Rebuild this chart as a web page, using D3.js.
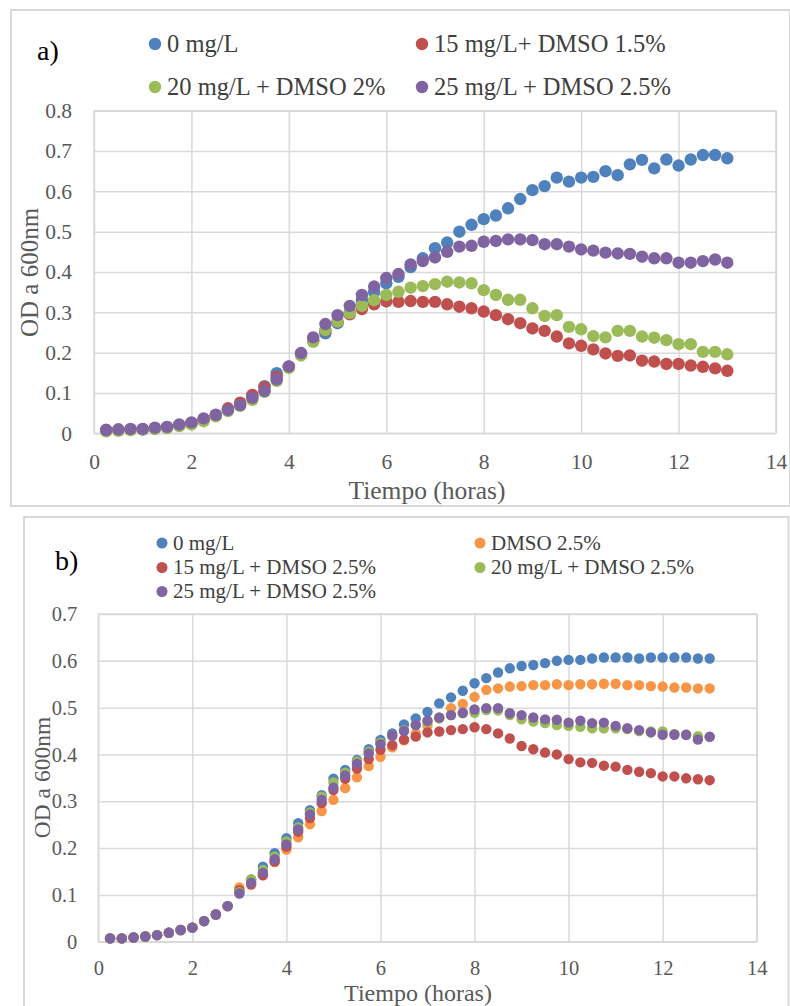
<!DOCTYPE html>
<html>
<head>
<meta charset="utf-8">
<script src="https://cdn.jsdelivr.net/npm/d3@7"></script>
<style>
  html, body { margin: 0; padding: 0; background: #ffffff; }
  svg { display: block; font-family: "Liberation Serif", "Times New Roman", serif; }
</style>
</head>
<body>
<svg id="chart" width="790" height="1006"></svg>
<script>
// Sampling times (hours)
const times = [0.25, 0.5, 0.75, 1, 1.25, 1.5, 1.75, 2, 2.25, 2.5, 2.75, 3, 3.25, 3.5, 3.75, 4,
  4.25, 4.5, 4.75, 5, 5.25, 5.5, 5.75, 6, 6.25, 6.5, 6.75, 7, 7.25, 7.5, 7.75, 8,
  8.25, 8.5, 8.75, 9, 9.25, 9.5, 9.75, 10, 10.25, 10.5, 10.75, 11, 11.25, 11.5, 11.75, 12,
  12.25, 12.5, 12.75, 13];

// Panel a) OD600 readings
const a_0mg = [0.008, 0.008, 0.009, 0.010, 0.012, 0.015, 0.020, 0.025, 0.033, 0.044, 0.058, 0.072,
  0.090, 0.117, 0.149, 0.165, 0.197, 0.232, 0.248, 0.273, 0.300, 0.330, 0.350, 0.372,
  0.388, 0.412, 0.434, 0.459, 0.473, 0.500, 0.517, 0.531, 0.540, 0.558, 0.581, 0.603,
  0.613, 0.634, 0.624, 0.634, 0.636, 0.650, 0.640, 0.667, 0.678, 0.657, 0.679, 0.664,
  0.679, 0.690, 0.690, 0.682];
const a_15mg = [0.008, 0.008, 0.009, 0.010, 0.012, 0.014, 0.019, 0.024, 0.034, 0.045, 0.062, 0.076,
  0.095, 0.114, 0.140, 0.165, 0.195, 0.230, 0.255, 0.277, 0.295, 0.308, 0.320, 0.327,
  0.326, 0.328, 0.326, 0.326, 0.320, 0.314, 0.310, 0.302, 0.293, 0.283, 0.273, 0.260,
  0.254, 0.240, 0.223, 0.217, 0.208, 0.198, 0.192, 0.193, 0.180, 0.178, 0.172, 0.172,
  0.168, 0.165, 0.161, 0.155];
const a_20mg = [0.005, 0.006, 0.008, 0.010, 0.011, 0.013, 0.018, 0.022, 0.030, 0.042, 0.055, 0.068,
  0.083, 0.103, 0.130, 0.162, 0.193, 0.227, 0.256, 0.277, 0.298, 0.316, 0.330, 0.343,
  0.351, 0.361, 0.365, 0.370, 0.376, 0.374, 0.372, 0.355, 0.343, 0.331, 0.331, 0.310,
  0.291, 0.293, 0.264, 0.258, 0.241, 0.238, 0.254, 0.254, 0.240, 0.237, 0.231, 0.221,
  0.221, 0.202, 0.202, 0.196];
const a_25mg = [0.008, 0.010, 0.011, 0.011, 0.014, 0.016, 0.022, 0.027, 0.037, 0.046, 0.058, 0.070,
  0.088, 0.105, 0.134, 0.166, 0.199, 0.238, 0.271, 0.293, 0.316, 0.343, 0.364, 0.385,
  0.395, 0.419, 0.427, 0.436, 0.450, 0.463, 0.465, 0.475, 0.477, 0.481, 0.481, 0.479,
  0.469, 0.469, 0.463, 0.456, 0.453, 0.448, 0.446, 0.445, 0.438, 0.434, 0.434, 0.423,
  0.423, 0.427, 0.431, 0.423];

// Panel b) OD600 readings
const b_0mg = [0.007, 0.007, 0.009, 0.011, 0.014, 0.019, 0.025, 0.030, 0.044, 0.058, 0.076, 0.108,
  0.133, 0.160, 0.189, 0.221, 0.253, 0.281, 0.313, 0.348, 0.367, 0.388, 0.411, 0.431,
  0.445, 0.464, 0.477, 0.491, 0.509, 0.522, 0.536, 0.552, 0.563, 0.575, 0.584, 0.589,
  0.591, 0.595, 0.600, 0.602, 0.602, 0.605, 0.607, 0.607, 0.607, 0.605, 0.607, 0.607,
  0.607, 0.607, 0.605, 0.605];
const b_dmso = [0.007, 0.007, 0.009, 0.011, 0.014, 0.019, 0.025, 0.030, 0.044, 0.058, 0.076, 0.116,
  0.128, 0.145, 0.170, 0.197, 0.223, 0.251, 0.279, 0.303, 0.328, 0.351, 0.375, 0.395,
  0.415, 0.430, 0.445, 0.462, 0.478, 0.499, 0.508, 0.523, 0.538, 0.541, 0.545, 0.546,
  0.548, 0.548, 0.550, 0.548, 0.550, 0.550, 0.551, 0.551, 0.548, 0.548, 0.546, 0.545,
  0.543, 0.543, 0.541, 0.541];
const b_15mg = [0.007, 0.007, 0.009, 0.011, 0.014, 0.019, 0.025, 0.030, 0.044, 0.058, 0.076, 0.110,
  0.122, 0.142, 0.171, 0.203, 0.235, 0.264, 0.296, 0.324, 0.348, 0.370, 0.390, 0.410,
  0.420, 0.432, 0.438, 0.447, 0.449, 0.452, 0.454, 0.458, 0.454, 0.445, 0.434, 0.418,
  0.411, 0.404, 0.400, 0.390, 0.383, 0.382, 0.376, 0.374, 0.367, 0.363, 0.360, 0.353,
  0.353, 0.349, 0.347, 0.345];
const b_20mg = [0.007, 0.007, 0.009, 0.011, 0.014, 0.019, 0.025, 0.030, 0.044, 0.058, 0.076, 0.106,
  0.133, 0.153, 0.182, 0.214, 0.244, 0.276, 0.310, 0.340, 0.361, 0.385, 0.406, 0.425,
  0.440, 0.452, 0.463, 0.470, 0.477, 0.484, 0.488, 0.489, 0.495, 0.494, 0.484, 0.475,
  0.470, 0.467, 0.463, 0.461, 0.459, 0.456, 0.456, 0.456, 0.454, 0.450, 0.449, 0.449,
  0.444, 0.442, 0.439, 0.437];
const b_25mg = [0.007, 0.007, 0.009, 0.011, 0.014, 0.019, 0.025, 0.030, 0.044, 0.058, 0.076, 0.103,
  0.126, 0.147, 0.176, 0.208, 0.240, 0.272, 0.303, 0.329, 0.355, 0.380, 0.402, 0.422,
  0.440, 0.450, 0.463, 0.472, 0.479, 0.484, 0.489, 0.496, 0.499, 0.499, 0.488, 0.484,
  0.479, 0.475, 0.474, 0.468, 0.472, 0.467, 0.468, 0.461, 0.456, 0.452, 0.447, 0.442,
  0.442, 0.442, 0.432, 0.438];

// Series names and tick labels
const namesA = ["0 mg/L", "15 mg/L+ DMSO 1.5%", "20 mg/L + DMSO 2%", "25 mg/L + DMSO 2.5%"];
const namesB = ["0 mg/L", "DMSO 2.5%", "15 mg/L + DMSO 2.5%", "20 mg/L + DMSO 2.5%", "25 mg/L + DMSO 2.5%"];
const xTicks = [0, 2, 4, 6, 8, 10, 12, 14];
const yTicksA = [0, 0.1, 0.2, 0.3, 0.4, 0.5, 0.6, 0.7, 0.8];
const yTicksB = [0, 0.1, 0.2, 0.3, 0.4, 0.5, 0.6, 0.7];

const C = { blue: "#4F81BD", red: "#C0504D", green: "#9BBB59", purple: "#8064A2", orange: "#F79646" };
const GRID = "#d9d9d9";
const TXT = "#595959";

const svg = d3.select("#chart");

function drawPanel(p) {
  const g = svg.append("g");

  // outer chart frame
  g.append("rect")
    .attr("x", p.frame[0]).attr("y", p.frame[1])
    .attr("width", p.frame[2]).attr("height", p.frame[3])
    .attr("fill", "#fff").attr("stroke", GRID).attr("stroke-width", 2);

  const x = d3.scaleLinear().domain([0, 14]).range([p.plot.left, p.plot.right]);
  const y = d3.scaleLinear().domain([0, p.yMax]).range([p.plot.bottom, p.plot.top]);
  const w = p.plot.right - p.plot.left, h = p.plot.bottom - p.plot.top;

  // horizontal gridlines + y tick labels
  const ya = g.append("g").attr("transform", `translate(${p.plot.left},0)`)
    .call(d3.axisLeft(y).tickValues(p.yTicks).tickSizeInner(-w).tickSizeOuter(0)
      .tickPadding(p.yPad).tickFormat(d => d === 0 ? "0" : d3.format(".1f")(d)));
  ya.select(".domain").remove();
  ya.selectAll("line").attr("stroke", GRID).attr("stroke-width", 1.5);
  ya.selectAll("text").attr("fill", TXT).attr("font-size", p.tickFs)
    .attr("font-family", "Liberation Serif");

  // vertical gridlines + x tick labels
  const xa = g.append("g").attr("transform", `translate(0,${p.plot.bottom})`)
    .call(d3.axisBottom(x).tickValues(xTicks).tickSizeInner(-h).tickSizeOuter(0)
      .tickPadding(p.xPad).tickFormat(d3.format("d")));
  xa.select(".domain").remove();
  xa.selectAll("line").attr("stroke", GRID).attr("stroke-width", 1.5);
  xa.selectAll("text").attr("fill", TXT).attr("font-size", p.tickFs)
    .attr("font-family", "Liberation Serif");

  // plot area border
  g.append("rect")
    .attr("x", p.plot.left).attr("y", p.plot.top).attr("width", w).attr("height", h)
    .attr("fill", "none").attr("stroke", GRID).attr("stroke-width", 1.5);

  // markers, later series on top
  p.series.forEach(s => {
    g.append("g").selectAll("circle")
      .data(s.values.map((v, i) => [times[i], v]))
      .join("circle")
      .attr("cx", d => x(d[0])).attr("cy", d => y(d[1]))
      .attr("r", p.r).attr("fill", s.color);
  });

  // axis titles
  g.append("text")
    .attr("x", p.xTitle[0]).attr("y", p.xTitle[1])
    .attr("text-anchor", "middle").attr("fill", TXT).attr("font-size", p.xTitleFs)
    .text("Tiempo (horas)");
  g.append("text")
    .attr("transform", `translate(${p.yTitle[0]},${p.yTitle[1]}) rotate(-90)`)
    .attr("text-anchor", "middle").attr("fill", TXT).attr("font-size", p.yTitleFs)
    .text("OD a 600nm");

  // panel label
  g.append("text")
    .attr("x", p.label[0]).attr("y", p.label[1])
    .attr("fill", "#000").attr("font-size", p.labelFs)
    .text(p.labelText);

  // legend
  p.series.forEach((s, i) => {
    const pos = p.legendPos[i];
    g.append("circle").attr("cx", pos[0]).attr("cy", pos[1]).attr("r", p.legendR).attr("fill", s.color);
    g.append("text")
      .attr("x", pos[0] + p.legendGap).attr("y", pos[1] + p.legendFs * 0.33)
      .attr("fill", "#404040").attr("font-size", p.legendFs)
      .text(s.name);
  });
}

drawPanel({
  frame: [11, 10, 779, 496],
  plot: { left: 94, right: 776, top: 110.7, bottom: 433.3 },
  yMax: 0.8, yTicks: yTicksA,
  tickFs: 21.5, yPad: 22, xPad: 20,
  r: 6.2,
  xTitle: [427, 499], xTitleFs: 25.5,
  yTitle: [38, 272.5], yTitleFs: 25,
  label: [37, 60], labelFs: 28, labelText: "a)",
  legendPos: [[155, 44], [422, 44], [155, 87], [422, 87]],
  legendR: 6.2, legendGap: 12, legendFs: 24.5,
  series: [
    { name: namesA[0], values: a_0mg, color: C.blue },
    { name: namesA[1], values: a_15mg, color: C.red },
    { name: namesA[2], values: a_20mg, color: C.green },
    { name: namesA[3], values: a_25mg, color: C.purple }
  ]
});

drawPanel({
  frame: [24, 517, 764.5, 500],
  plot: { left: 98.3, right: 756.7, top: 614, bottom: 941.7 },
  yMax: 0.7, yTicks: yTicksB,
  tickFs: 20.5, yPad: 21, xPad: 18.5,
  r: 5.2,
  xTitle: [418, 1001], xTitleFs: 24,
  yTitle: [50, 777.5], yTitleFs: 23.5,
  label: [55, 570], labelFs: 28, labelText: "b)",
  legendPos: [[162, 543], [480, 543], [162, 567.5], [480, 567.5], [162, 591.5]],
  legendR: 5.5, legendGap: 11, legendFs: 21,
  series: [
    { name: namesB[0], values: b_0mg, color: C.blue },
    { name: namesB[1], values: b_dmso, color: C.orange },
    { name: namesB[2], values: b_15mg, color: C.red },
    { name: namesB[3], values: b_20mg, color: C.green },
    { name: namesB[4], values: b_25mg, color: C.purple }
  ]
});
</script>
</body>
</html>
